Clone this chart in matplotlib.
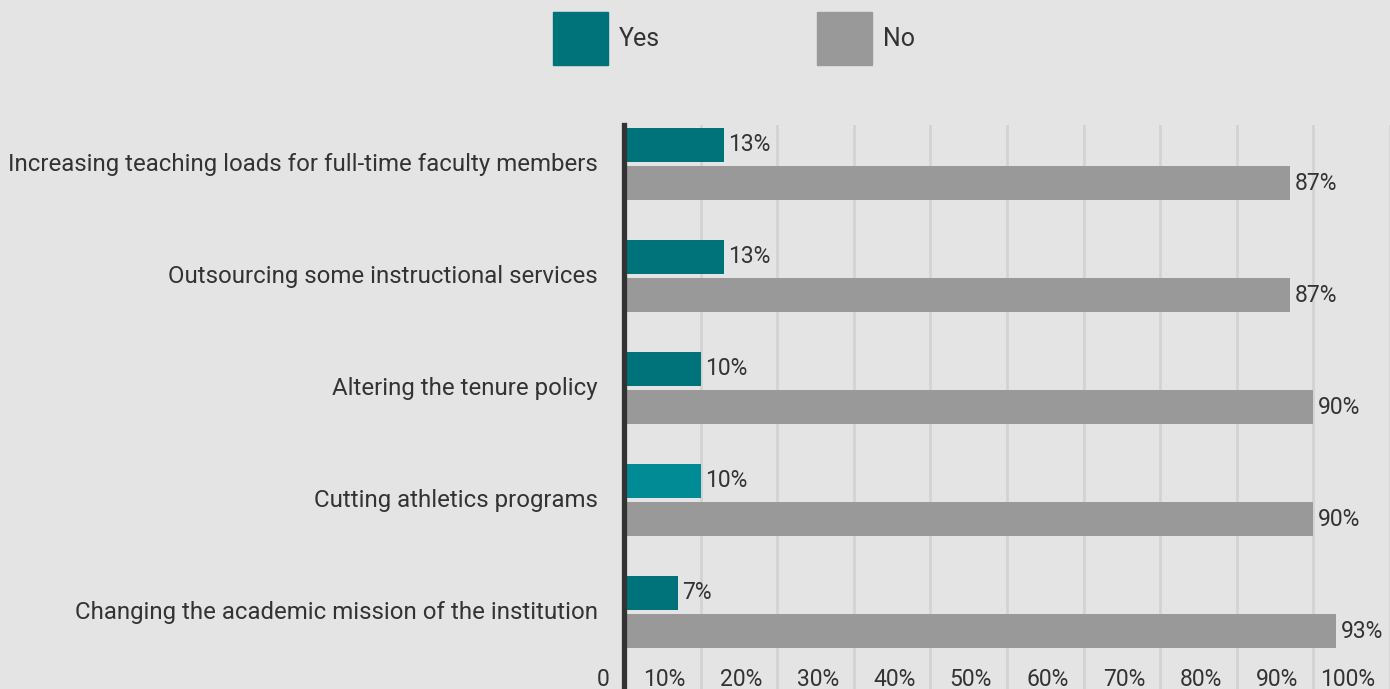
import matplotlib
matplotlib.use("Agg")
import matplotlib.pyplot as plt
import matplotlib.patches as mpatches
from matplotlib.transforms import ScaledTranslation
import numpy as np

categories = [
    "Increasing teaching loads for full-time faculty members",
    "Outsourcing some instructional services",
    "Altering the tenure policy",
    "Cutting athletics programs",
    "Changing the academic mission of the institution",
]
yes_vals = [13, 13, 10, 10, 7]
no_vals = [87, 87, 90, 90, 93]
tick_vals = [0, 10, 20, 30, 40, 50, 60, 70, 80, 90, 100]
tick_labels = ["0", "10%", "20%", "30%", "40%", "50%", "60%", "70%", "80%", "90%", "100%"]

BG = "#e4e4e4"
YES = "#00727a"
YES_HI = "#008b95"
NO = "#999999"
TXT = "#333333"
NUM_FONT = ["Liberation Sans Narrow", "Roboto", "DejaVu Sans"]

plt.rcParams["font.family"] = ["Roboto", "DejaVu Sans"]

W, H = 1390, 689
fig = plt.figure(figsize=(W / 100, H / 100), dpi=100, facecolor=BG)
ax = fig.add_axes([624 / W, 0, 1 - 624 / W, 1 - 125 / H], facecolor=BG)

y = np.arange(len(categories))
bh = 0.30
off = 0.17
# the athletics "Yes" bar is shown in the lighter (highlighted) teal
yes_colors = [YES, YES, YES, YES_HI, YES]
ax.barh(y - off, yes_vals, height=bh, color=yes_colors, zorder=3)
ax.barh(y + off, no_vals, height=bh, color=NO, zorder=3)

for yi, v in zip(y, yes_vals):
    ax.text(v + 0.6, yi - off, f"{v}%", va="center", ha="left", fontsize=16.5,
            color=TXT, family=NUM_FONT, zorder=4)
for yi, v in zip(y, no_vals):
    ax.text(v + 0.6, yi + off, f"{v}%", va="center", ha="left", fontsize=16.5,
            color=TXT, family=NUM_FONT, zorder=4)

ax.set_xlim(0, (W - 624) / 7.68)
ax.set_ylim(4.6875, -0.348)

ax.set_xticks(tick_vals)
ax.set_xticklabels(tick_labels, family=NUM_FONT, fontsize=16.5, color=TXT, ha="right")
ax.tick_params(axis="x", length=0, pad=-15)
for lab in ax.get_xticklabels():
    lab.set_transform(lab.get_transform() + ScaledTranslation(-0.15, 0, fig.dpi_scale_trans))

ax.set_yticks(y)
ax.set_yticklabels(categories, fontsize=17.3, color=TXT)
ax.tick_params(axis="y", length=0, pad=19)
for lab in ax.get_yticklabels():
    lab.set_transform(lab.get_transform() + ScaledTranslation(0, 0.02, fig.dpi_scale_trans))

ax.grid(axis="x", color="#d3d3d3", linewidth=2, zorder=0)
ax.grid(axis="y", visible=False)
for s in ["top", "right", "bottom"]:
    ax.spines[s].set_visible(False)
ax.spines["left"].set_color("#333333")
ax.spines["left"].set_linewidth(3.8)
ax.spines["left"].set_zorder(5)

handles = [mpatches.Patch(color=YES, label="Yes"), mpatches.Patch(color=NO, label="No")]
leg = fig.legend(handles=handles, loc="upper center", bbox_to_anchor=(734 / W, 1 + 10 / H),
                 ncol=2, frameon=False, fontsize=18, handlelength=2.2, handleheight=2.85,
                 handletextpad=0.45, columnspacing=6.25, labelcolor=TXT)

fig.savefig("out.png", dpi=100, facecolor=BG)
